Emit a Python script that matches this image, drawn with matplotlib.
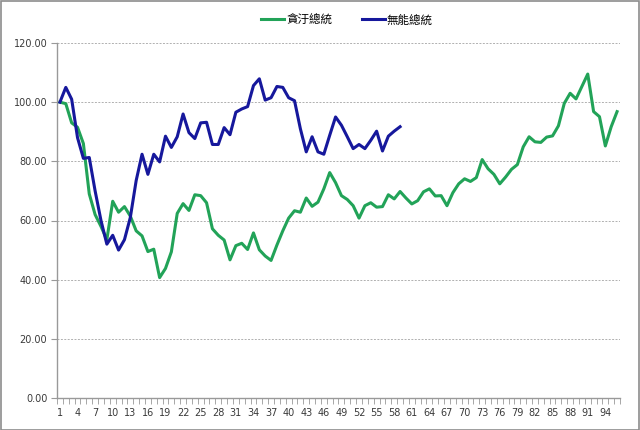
import matplotlib
matplotlib.use("Agg")
import matplotlib.pyplot as plt
from matplotlib.patches import Rectangle

series_names = ["貪汙總統", "無能總統"]
green_vals = [100, 99.5, 93, 91.5, 86, 69, 62, 58, 53.5, 66.5,
              62.8, 64.7, 61.5, 56.5, 54.8, 49.5, 50.3, 40.7, 43.8, 49.4,
              62.4, 65.7, 63.4, 68.7, 68.4, 66, 57.2, 55, 53.4, 46.7,
              51.5, 52.3, 50.2, 55.8, 50.1, 48, 46.5, 51.7, 56.5, 60.8,
              63.3, 62.8, 67.6, 64.8, 66.2, 70.7, 76.2, 72.8, 68.4, 67.1,
              65, 60.8, 65, 66, 64.5, 64.7, 68.7, 67.3, 69.8, 67.6,
              65.6, 66.7, 69.7, 70.7, 68.3, 68.4, 65, 69.4, 72.4, 74.1,
              73.2, 74.5, 80.6, 77.5, 75.6, 72.4, 74.7, 77.3, 78.9, 84.9,
              88.3, 86.6, 86.4, 88.2, 88.6, 92, 99.6, 103, 101.1, 105.3,
              109.5, 96.8, 95.1, 85.2, 91.7, 96.8]
blue_vals = [100, 105, 101, 88, 81, 81.3, 70, 60, 52, 55,
             50, 53.5, 61, 73.5, 82.4, 75.6, 82.4, 79.8, 88.5, 84.7,
             88.3, 96, 89.7, 87.7, 93, 93.2, 85.7, 85.7, 91.4, 89,
             96.6, 97.7, 98.5, 105.6, 107.9, 100.7, 101.5, 105.3, 105, 101.5,
             100.5, 91, 83.2, 88.3, 83.2, 82.4, 88.8, 95, 92.2, 88.3,
             84.3, 85.7, 84.3, 87.1, 90.2, 83.5, 88.5, 90.2, 91.7]
n_categories = 96
x_labels = list(range(1, n_categories + 1, 3))
y_ticks = [0, 20, 40, 60, 80, 100, 120]

fig = plt.figure(figsize=(6.4, 4.3), dpi=100)
ax = fig.add_axes([57/640, 1-398/430, (620-57)/640, (398-43)/430])

xg = list(range(1, len(green_vals) + 1))
xb = list(range(1, len(blue_vals) + 1))
ax.plot(xg, green_vals, color="#22a358", lw=2.2, solid_joinstyle="round", label=series_names[0], zorder=3)
ax.plot(xb, blue_vals, color="#16189c", lw=2.2, solid_joinstyle="round", label=series_names[1], zorder=4)

ax.set_xlim(0.5, n_categories + 0.5)
ax.set_ylim(0, 120)
ax.set_yticks(y_ticks)
ax.set_yticklabels([f"{v:.2f}" for v in y_ticks], fontsize=7, color="#3a3a3a")
ax.set_xticks(x_labels)
ax.set_xticklabels([str(v) for v in x_labels], fontsize=7, color="#3a3a3a")
ax.set_xticks([i + 0.5 for i in range(0, n_categories + 1)], minor=True)
ax.tick_params(axis="x", which="major", length=0, pad=7)
ax.tick_params(axis="x", which="minor", length=4, color="#999999", direction="out")
ax.tick_params(axis="y", length=4, color="#999999", pad=3)

for v in y_ticks[1:]:
    ax.axhline(v, color="#b0b0b0", lw=0.7, ls=(0, (2, 1.5)), zorder=1)

for s in ["top", "right"]:
    ax.spines[s].set_visible(False)
for s in ["left", "bottom"]:
    ax.spines[s].set_color("#999999")
    ax.spines[s].set_linewidth(1)

leg = fig.legend(loc="center", bbox_to_anchor=(347/640, 1-20/430), ncol=2, frameon=False,
                 prop={"family": ["Noto Sans CJK TC", "DejaVu Sans"], "size": 8.3},
                 handlelength=2.0, handletextpad=0.15, columnspacing=2.6)

fig.patches.append(Rectangle((0.001, 0.001), 0.997, 0.997, transform=fig.transFigure,
                             fill=False, edgecolor="#8c8c8c", lw=1.2))

fig.savefig("out.png", dpi=100)
